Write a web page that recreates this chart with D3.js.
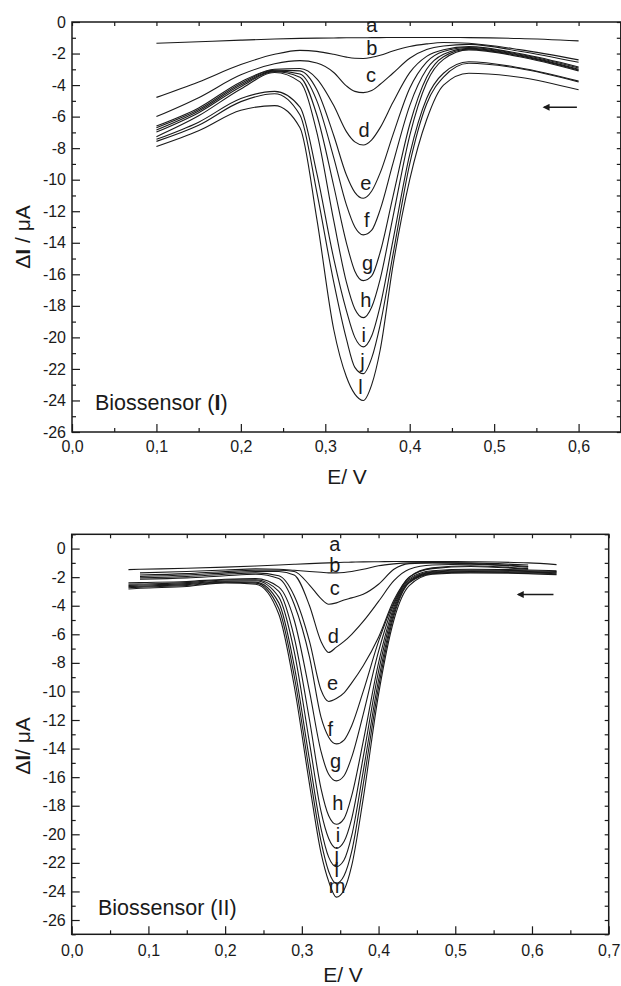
<!DOCTYPE html>
<html lang="pt">
<head>
  <meta charset="UTF-8">
  <title>Biossensor (I) e (II)</title>
  <script src="https://d3js.org/d3.v7.min.js"></script>
  <style>
    body { margin: 0; background: #fff; }
    svg text { font-family: "Liberation Sans", Arial, sans-serif; fill: #1a1a1a; }
  </style>
</head>
<body>
  <svg id="fig" width="621" height="986"></svg>

  <script>
    // ---------- data ----------
    const curveLetters1 = ['a', 'b', 'c', 'd', 'e', 'f', 'g', 'h', 'i', 'j', 'l'];
    const curveLetters2 = ['a', 'b', 'c', 'd', 'e', 'f', 'g', 'h', 'i', 'j', 'l', 'm'];

    // Biossensor (I): potential E / V
    const e1 = [0.10, 0.15, 0.20, 0.24, 0.27, 0.29, 0.31, 0.325, 0.335, 0.345, 0.355, 0.365, 0.38, 0.40, 0.42, 0.44, 0.47, 0.53, 0.60];
    // current dI / uA
    const i1a = [-1.35, -1.25, -1.15, -1.08, -1.04, -1.02, -1.01, -1.0, -1.0, -1.0, -0.99, -0.99, -0.98, -0.98, -0.98, -0.98, -0.99, -1.05, -1.2];
    const i1b = [-4.78, -3.8, -2.7, -2.05, -1.8, -1.86, -2.05, -2.23, -2.30, -2.31, -2.24, -2.11, -1.84, -1.55, -1.39, -1.3, -1.35, -1.75, -2.4];
    const i1c = [-6.0, -4.8, -3.35, -2.65, -2.45, -2.6, -3.2, -4.05, -4.40, -4.48, -4.35, -3.95, -3.25, -2.3, -1.75, -1.52, -1.42, -1.85, -2.55];
    const i1d = [-6.6, -5.45, -3.8, -3.0, -2.95, -3.6, -5.3, -6.95, -7.6, -7.8, -7.47, -6.7, -5.11, -3.21, -2.18, -1.76, -1.56, -2.0, -2.85];
    const i1e = [-6.7, -5.55, -3.9, -3.05, -3.1, -4.3, -7.2, -9.7, -10.8, -11.18, -10.72, -9.57, -7.17, -4.2, -2.54, -1.87, -1.62, -2.05, -2.92];
    const i1f = [-6.85, -5.65, -4.0, -3.1, -3.3, -5.0, -8.6, -11.6, -13.0, -13.5, -13.2, -11.9, -9.0, -5.3, -3.0, -2.05, -1.67, -2.1, -3.0];
    const i1g = [-6.98, -5.75, -4.1, -3.15, -3.5, -5.9, -10.4, -14.0, -15.8, -16.4, -16.1, -14.6, -11.1, -6.5, -3.5, -2.2, -1.72, -2.15, -3.05];
    const i1h = [-7.27, -5.95, -4.25, -3.2, -3.8, -7.0, -12.6, -16.5, -18.2, -18.75, -18.07, -16.3, -12.4, -7.2, -3.85, -2.37, -1.77, -2.2, -3.1];
    const i1i = [-7.44, -6.35, -4.85, -4.4, -5.4, -9.6, -15.0, -18.3, -20.0, -20.6, -19.9, -18.0, -13.9, -8.4, -4.85, -3.25, -2.52, -2.9, -3.75];
    const i1j = [-7.57, -6.55, -5.05, -4.55, -5.9, -10.8, -16.5, -20.1, -21.9, -22.3, -21.3, -19.2, -14.8, -9.0, -5.2, -3.5, -2.62, -2.95, -3.8];
    const i1l = [-7.9, -6.9, -5.6, -5.3, -6.7, -12.5, -19.5, -22.5, -23.6, -24.0, -23.0, -20.8, -15.5, -10.0, -6.2, -4.0, -3.25, -3.5, -4.3];

    // Biossensor (II): potential E / V (null = curve not recorded there)
    const e2 = [0.074, 0.089, 0.15, 0.20, 0.24, 0.27, 0.29, 0.31, 0.325, 0.335, 0.345, 0.355, 0.365, 0.38, 0.40, 0.42, 0.44, 0.47, 0.52, 0.595, 0.632];
    const i2a = [-1.47, -1.45, -1.38, -1.3, -1.22, -1.15, -1.1, -1.05, -1.02, -1.0, -0.98, -0.96, -0.95, -0.93, -0.92, -0.9, -0.9, -0.9, -0.92, -1.0, -1.12];
    const i2b = [null, -1.7, -1.6, -1.5, -1.42, -1.45, -1.52, -1.6, -1.66, -1.7, -1.7, -1.67, -1.6, -1.45, -1.2, -1.07, -1.0, -0.98, -1.0, -1.15, null];
    const i2c = [null, -1.85, -1.75, -1.6, -1.52, -1.52, -1.6, -2.55, -3.5, -3.9, -3.8, -3.6, -3.45, -3.2, -2.5, -1.45, -1.05, -1.0, -1.05, -1.25, null];
    const i2d = [null, -1.95, -1.85, -1.7, -1.6, -1.6, -1.85, -4.0, -6.5, -7.27, -6.9, -6.5, -6.0, -5.1, -3.7, -2.25, -1.45, -1.15, -1.1, -1.3, null];
    const i2e = [null, -2.05, -1.95, -1.8, -1.7, -1.9, -3.3, -6.5, -9.9, -10.7, -10.5, -10.1, -9.4, -8.2, -6.2, -3.6, -2.0, -1.35, -1.2, -1.4, null];
    const i2f = [null, -2.15, -2.05, -1.9, -1.8, -2.1, -3.9, -7.6, -11.8, -13.2, -13.67, -13.4, -12.4, -10.0, -6.5, -3.75, -2.0, -1.4, -1.25, -1.45, null];
    const i2g = [-2.4, -2.38, -2.3, -2.15, -2.1, -2.7, -5.0, -10.0, -14.2, -15.8, -16.26, -15.9, -14.6, -11.6, -7.2, -3.9, -2.1, -1.55, -1.45, -1.5, -1.55];
    const i2h = [-2.5, -2.48, -2.38, -2.2, -2.18, -3.0, -6.2, -12.0, -16.8, -18.7, -19.3, -18.9, -17.3, -13.5, -8.0, -4.1, -2.2, -1.6, -1.5, -1.55, -1.6];
    const i2i = [-2.58, -2.55, -2.45, -2.27, -2.25, -3.4, -7.2, -13.6, -18.4, -20.3, -20.98, -20.5, -18.9, -14.6, -8.6, -4.3, -2.3, -1.65, -1.55, -1.6, -1.65];
    const i2j = [-2.66, -2.63, -2.52, -2.32, -2.35, -3.8, -8.2, -14.8, -19.6, -21.6, -22.26, -21.8, -20.1, -15.6, -9.2, -4.5, -2.35, -1.7, -1.6, -1.65, -1.7];
    const i2l = [-2.74, -2.7, -2.58, -2.36, -2.42, -4.2, -8.9, -15.7, -20.5, -22.6, -23.43, -22.9, -21.2, -16.5, -9.7, -4.7, -2.4, -1.75, -1.65, -1.7, -1.76];
    const i2m = [-2.83, -2.78, -2.65, -2.4, -2.5, -4.6, -9.6, -16.5, -21.3, -23.3, -24.4, -23.9, -22.2, -17.5, -10.2, -5.0, -2.6, -1.8, -1.7, -1.75, -1.82];

    // where each curve letter sits (E, dI at text baseline)
    const labelAt1 = [[0.355, -0.66], [0.355, -2.11], [0.354, -3.79], [0.346, -7.29], [0.348, -10.66], [0.349, -13.0],
                      [0.350, -15.71], [0.348, -18.07], [0.3455, -20.29], [0.344, -21.94], [0.3416, -23.57]];
    const labelAt2 = [[0.343, -0.19], [0.343, -1.61], [0.343, -3.22], [0.341, -6.59], [0.340, -9.88], [0.337, -13.12],
                      [0.344, -15.35], [0.347, -18.31], [0.347, -20.53], [0.3455, -21.91], [0.3455, -23.0], [0.346, -24.1]];

    // tick values
    const xMajor1 = [0, 0.1, 0.2, 0.3, 0.4, 0.5, 0.6];
    const xMinor1 = [0.05, 0.15, 0.25, 0.35, 0.45, 0.55, 0.65];
    const xMajor2 = [0, 0.1, 0.2, 0.3, 0.4, 0.5, 0.6, 0.7];
    const xMinor2 = [0.05, 0.15, 0.25, 0.35, 0.45, 0.55, 0.65];
    const yMajor = [0, -2, -4, -6, -8, -10, -12, -14, -16, -18, -20, -22, -24, -26];
    const yMinor1 = [-1, -3, -5, -7, -9, -11, -13, -15, -17, -19, -21, -23, -25];
    const yMinor2 = [1, -1, -3, -5, -7, -9, -11, -13, -15, -17, -19, -21, -23, -25, -27];

    // scan direction arrows: [E start, E end, dI]
    const arrow1 = [0.598, 0.559, -5.41];
    const arrow2 = [0.628, 0.582, -3.22];

    // ---------- drawing ----------
    const svg = d3.select('#fig');
    const fmt = v => d3.format('.1f')(v).replace('.', ',');

    svg.append('defs').append('marker')
      .attr('id', 'head')
      .attr('viewBox', '0 0 10 10')
      .attr('refX', 8).attr('refY', 5)
      .attr('markerWidth', 10).attr('markerHeight', 7)
      .attr('markerUnits', 'userSpaceOnUse')
      .attr('orient', 'auto')
      .append('path').attr('d', 'M10,5 L0,0 L0,10 Z').attr('fill', '#1a1a1a');

    function drawPanel(p) {
      const x = d3.scaleLinear().domain(p.xDomain).range([p.left, p.right]);
      const y = d3.scaleLinear().domain(p.yDomain).range([p.bottom, p.top]);
      const g = svg.append('g');

      // inward ticks on all four sides
      const ax = (gen, tx, ty, vals, size, labels, pad) => {
        const a = g.append('g').attr('transform', `translate(${tx},${ty})`)
          .call(gen.tickValues(vals).tickSizeInner(-size).tickSizeOuter(0).tickPadding(pad || 3)
            .tickFormat(labels ? labels : ''));
        a.select('.domain').remove();
        a.selectAll('line').attr('stroke', '#1a1a1a').attr('stroke-width', 1.2);
        a.selectAll('text').attr('font-size', 16).attr('fill', '#1a1a1a');
        return a;
      };
      ax(d3.axisBottom(x), 0, p.bottom, p.xMajor, 8, fmt, p.xPad);
      ax(d3.axisBottom(x), 0, p.bottom, p.xMinor, 4);
      ax(d3.axisTop(x), 0, p.top, p.xMajor.concat(p.xMinor), 4);
      ax(d3.axisLeft(y), p.left, 0, yMajor, 8, v => String(v), 6);
      ax(d3.axisLeft(y), p.left, 0, p.yMinor, 4);
      ax(d3.axisRight(y), p.right, 0, yMajor.concat(p.yMinor), 4);

      // frame
      g.append('rect')
        .attr('x', p.left).attr('y', p.top)
        .attr('width', p.right - p.left).attr('height', p.bottom - p.top)
        .attr('fill', 'none').attr('stroke', '#1a1a1a').attr('stroke-width', 1.5);

      // voltammograms
      const line = d3.line()
        .defined(d => d[1] !== null)
        .x(d => x(d[0])).y(d => y(d[1]))
        .curve(d3.curveMonotoneX);
      p.curves.forEach(c => {
        g.append('path')
          .datum(p.e.map((e, i) => [e, c[i]]))
          .attr('d', line)
          .attr('fill', 'none')
          .attr('stroke', '#1a1a1a')
          .attr('stroke-width', 1.1);
      });

      // curve letters
      g.selectAll('text.lbl').data(p.letters).enter().append('text')
        .attr('class', 'lbl')
        .attr('x', (d, i) => x(p.labelAt[i][0]))
        .attr('y', (d, i) => y(p.labelAt[i][1]))
        .attr('text-anchor', 'middle')
        .attr('font-size', 20)
        .text(d => d);

      // scan arrow
      g.append('line')
        .attr('x1', x(p.arrow[0])).attr('x2', x(p.arrow[1]))
        .attr('y1', y(p.arrow[2])).attr('y2', y(p.arrow[2]))
        .attr('stroke', '#1a1a1a').attr('stroke-width', 1.5)
        .attr('marker-end', 'url(#head)');

      // axis titles
      g.append('text')
        .attr('x', p.xTitle[0]).attr('y', p.xTitle[1])
        .attr('text-anchor', 'middle').attr('font-size', 21)
        .text('E/ V');
      const yt = g.append('text')
        .attr('transform', `translate(${p.yTitle[0]},${p.yTitle[1]}) rotate(-90)`)
        .attr('text-anchor', 'middle').attr('font-size', 21);
      yt.append('tspan').text('Δ');
      yt.append('tspan').attr('font-weight', 'bold').text('I');
      yt.append('tspan').text(p.ySep + 'μA');

      // panel name
      const nm = g.append('text')
        .attr('x', p.name[0]).attr('y', p.name[1])
        .attr('font-size', 21.5);
      nm.append('tspan').text('Biossensor (');
      nm.append('tspan').attr('font-weight', p.nameBold ? 'bold' : 'normal').text(p.nameId);
      nm.append('tspan').text(')');
    }

    drawPanel({
      left: 72, right: 620.8, top: 22, bottom: 432,
      xDomain: [0, 0.65], yDomain: [-26, 0],
      xMajor: xMajor1, xMinor: xMinor1, yMinor: yMinor1, xPad: 9,
      e: e1,
      curves: [i1a, i1b, i1c, i1d, i1e, i1f, i1g, i1h, i1i, i1j, i1l],
      letters: curveLetters1, labelAt: labelAt1,
      arrow: arrow1,
      xTitle: [347, 484], yTitle: [30, 237], ySep: ' / ',
      name: [95, 410], nameId: 'I', nameBold: true
    });

    drawPanel({
      left: 71.7, right: 608.7, top: 534.3, bottom: 934.3,
      xDomain: [0, 0.7], yDomain: [-27, 1],
      xMajor: xMajor2, xMinor: xMinor2, yMinor: yMinor2, xPad: 10,
      e: e2,
      curves: [i2a, i2b, i2c, i2d, i2e, i2f, i2g, i2h, i2i, i2j, i2l, i2m],
      letters: curveLetters2, labelAt: labelAt2,
      arrow: arrow2,
      xTitle: [343, 982], yTitle: [30, 746], ySep: '/ ',
      name: [98, 915], nameId: 'II', nameBold: false
    });
  </script>
</body>
</html>
